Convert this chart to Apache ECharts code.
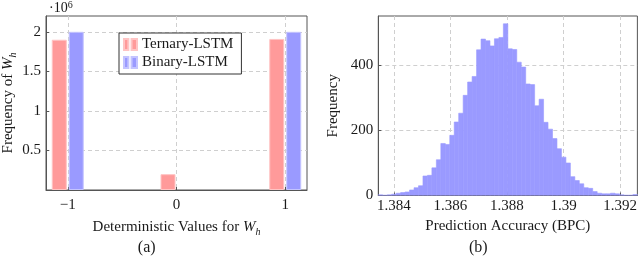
<!DOCTYPE html>
<html>
<head>
<meta charset="utf-8">
<script src="https://cdn.jsdelivr.net/npm/echarts@6/dist/echarts.min.js"></script>
<style>
html,body{margin:0;padding:0;background:#fff;}
#c{width:640px;height:263px;}
</style>
</head>
<body>
<div id="c"></div>
<script>
// ---- Data: panel (a) ----
var seriesNamesA = ['Ternary-LSTM', 'Binary-LSTM'];
var ternaryX = [-1, 0, 1];
var ternaryY = [1.90, 0.20, 1.91];       // x10^6
var binaryX = [-1, 1];
var binaryY = [2.00, 2.00];              // x10^6
var xTicksA = [-1, 0, 1];
var yTicksA = [0.5, 1, 1.5, 2];

// ---- Data: panel (b) histogram ----
var histMin = 1.38345;
var histMax = 1.39261;
var histCounts = [2, 1, 2, 4, 7, 9, 11, 17, 24, 30,
                  60, 62, 85, 110, 160, 157, 185, 226, 253, 308,
                  349, 366, 448, 481, 476, 460, 482, 486, 528, 451,
                  449, 410, 395, 343, 341, 276, 296, 225, 204, 175,
                  144, 118, 100, 58, 46, 36, 24, 22, 12, 7,
                  5, 5, 7, 5, 2, 1, 1, 3];
var xTicksB = [1.384, 1.386, 1.388, 1.39, 1.392];
var yTicksB = [0, 200, 400];

var FONT = 'Liberation Serif';
var FS = 15;
var TXT = '#1a1a1a';

var binW = (histMax - histMin) / histCounts.length;
var histData = histCounts.map(function (c, i) {
  return [histMin + i * binW, histMin + (i + 1) * binW, c];
});

function fmtNum(v) {
  var s = String(+(+v).toFixed(6));
  return v < 0 ? '\u2212' + s.replace('-', '') : s;
}

var gridLine = { show: true, lineStyle: { color: '#cfcfcf', type: [4, 3], width: 1 } };
var axisLineS = { show: true, onZero: false, lineStyle: { color: '#555', width: 1 } };
var tickS = { show: true, inside: true, length: 3, lineStyle: { color: '#555' } };
var richW = {
  t: { fontFamily: FONT, fontSize: FS, color: TXT, lineHeight: 19 },
  i: { fontFamily: FONT, fontSize: FS, fontStyle: 'italic', color: TXT, lineHeight: 19 },
  s: { fontFamily: FONT, fontSize: 10, fontStyle: 'italic', color: TXT, lineHeight: 19, verticalAlign: 'bottom' }
};

var chart = echarts.init(document.getElementById('c'), null, { renderer: 'canvas' });
chart.setOption({
  animation: false,
  textStyle: { fontFamily: FONT },
  grid: [
    { left: 44.3, top: 16, width: 262.7, height: 174, show: true, borderColor: '#555', borderWidth: 1, containLabel: false },
    { left: 378.3, top: 16, width: 260, height: 179.5, show: true, borderColor: '#555', borderWidth: 1, containLabel: false }
  ],
  legend: {
    data: seriesNamesA,
    left: 119, top: 33,
    orient: 'vertical',
    backgroundColor: '#fff',
    borderColor: '#333', borderWidth: 1,
    padding: [4, 8, 4, 4],
    itemGap: 3,
    itemWidth: 13, itemHeight: 12,
    icon: 'path://M0,0h4v10h-4z M7,0h5v10h-5z',
    textStyle: { fontFamily: FONT, fontSize: FS, color: TXT }
  },
  xAxis: [
    {
      type: 'value', gridIndex: 0, min: -1.2, max: 1.2,
      axisLine: axisLineS,
      axisTick: Object.assign({}, tickS, { customValues: xTicksA }),
      axisLabel: { customValues: xTicksA, formatter: fmtNum, fontFamily: FONT, fontSize: FS, color: TXT, margin: 8 },
      splitLine: gridLine,
      name: '{t|Deterministic Values for }{i|W}{s|h}',
      nameLocation: 'middle', nameGap: 28,
      nameTextStyle: { rich: richW }
    },
    {
      type: 'value', gridIndex: 1, min: histMin, max: histMax,
      axisLine: axisLineS,
      axisTick: Object.assign({}, tickS, { customValues: xTicksB }),
      axisLabel: { customValues: xTicksB, formatter: fmtNum, fontFamily: FONT, fontSize: FS, color: TXT, margin: 3 },
      splitLine: gridLine,
      name: 'Prediction Accuracy (BPC)',
      nameLocation: 'middle', nameGap: 23,
      nameTextStyle: { fontFamily: FONT, fontSize: FS, color: TXT, verticalAlign: 'top' }
    }
  ],
  yAxis: [
    {
      type: 'value', gridIndex: 0, min: 0, max: 2.2,
      axisLine: axisLineS,
      axisTick: Object.assign({}, tickS, { customValues: yTicksA }),
      axisLabel: { customValues: yTicksA, formatter: fmtNum, fontFamily: FONT, fontSize: FS, color: TXT, margin: 5 },
      splitLine: gridLine,
      name: '{t|Frequency of }{i|W}{s|h}',
      nameLocation: 'middle', nameGap: 28, nameRotate: 90,
      nameTextStyle: { rich: richW }
    },
    {
      type: 'value', gridIndex: 1, min: 0, max: 552,
      axisLine: axisLineS,
      axisTick: Object.assign({}, tickS, { customValues: yTicksB }),
      axisLabel: { customValues: yTicksB, formatter: fmtNum, fontFamily: FONT, fontSize: FS, color: TXT, margin: 5 },
      splitLine: gridLine,
      name: 'Frequency',
      nameLocation: 'middle', nameGap: 38, nameRotate: 90,
      nameTextStyle: { fontFamily: FONT, fontSize: FS, color: TXT }
    }
  ],
  series: [
    {
      name: seriesNamesA[0], type: 'bar', xAxisIndex: 0, yAxisIndex: 0,
      data: ternaryX.map(function (x, i) { return [x, ternaryY[i]]; }),
      barWidth: 15, barGap: '13%',
      itemStyle: { color: '#ff9a9a', borderColor: '#ffc4c4', borderWidth: 1 }
    },
    {
      name: seriesNamesA[1], type: 'bar', xAxisIndex: 0, yAxisIndex: 0,
      data: binaryX.map(function (x, i) { return [x, binaryY[i]]; }),
      barWidth: 15, barGap: '13%',
      itemStyle: { color: '#9a9aff', borderColor: '#c4c4ff', borderWidth: 1 }
    },
    {
      name: 'hist', type: 'custom', xAxisIndex: 1, yAxisIndex: 1,
      data: histData,
      encode: { x: [0, 1], y: 2 },
      clip: true,
      renderItem: function (params, api) {
        var p0 = api.coord([api.value(0), api.value(2)]);
        var p1 = api.coord([api.value(1), 0]);
        return {
          type: 'rect',
          shape: { x: p0[0], y: p0[1], width: p1[0] - p0[0], height: p1[1] - p0[1] },
          style: { fill: '#9a9aff', stroke: '#9a9aff', lineWidth: 0.6 }
        };
      }
    }
  ],
  graphic: [
    {
      type: 'text', left: 49, top: 0,
      style: {
        text: '{a|\u00b710}{b|6}',
        rich: {
          a: { fontFamily: FONT, fontSize: 14, fill: TXT, lineHeight: 17 },
          b: { fontFamily: FONT, fontSize: 10, fill: TXT, lineHeight: 17, verticalAlign: 'top' }
        }
      }
    },
    { type: 'text', x: 146.7, y: 248, style: { text: '(a)', fontFamily: FONT, fontSize: 16, fill: TXT, align: 'center', verticalAlign: 'middle' } },
    { type: 'text', x: 478.3, y: 248, style: { text: '(b)', fontFamily: FONT, fontSize: 16, fill: TXT, align: 'center', verticalAlign: 'middle' } }
  ]
});
</script>
</body>
</html>
